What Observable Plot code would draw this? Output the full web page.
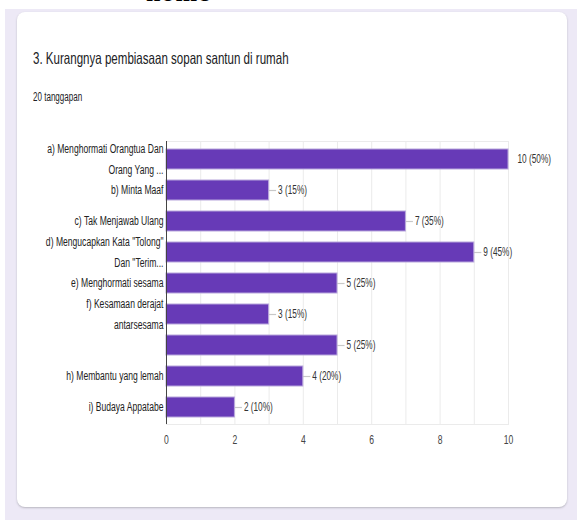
<!DOCTYPE html>
<html>
<head>
<meta charset="utf-8">
<script src="https://cdn.jsdelivr.net/npm/d3@7"></script>
<script src="https://cdn.jsdelivr.net/npm/@observablehq/plot@0.6"></script>
<style>
  html, body { margin: 0; padding: 0; }
  body { width: 577px; height: 520px; background: #ffffff; position: relative; overflow: hidden;
         font-family: "Liberation Sans", Arial, sans-serif; }
  #frag { position: absolute; left: 146px; top: -20px; font: bold 26px "Liberation Serif", serif; line-height: 1; color: #000; letter-spacing: 1px; }
  #bg { position: absolute; left: 5px; top: 9px; right: 0; bottom: 0; background: #ede9f6; }
  #card { position: absolute; left: 17px; top: 12px; width: 550px; height: 495px; background: #fff;
          border-radius: 8px; box-shadow: 0 1px 2px rgba(60,64,67,0.3); }
  .cond { position: absolute; white-space: nowrap; color: #202124; transform-origin: 0 0; }
  #title { left: 33px; top: 49px; font-size: 16.5px; transform: scaleX(0.70); }
  #sub { left: 33px; top: 90px; font-size: 12px; transform: scaleX(0.67); }
  #chart { position: absolute; left: 0; top: 128px; }
  #chart svg { background: transparent; overflow: visible; }
</style>
</head>
<body>
<div id="frag">home</div>
<div id="bg"></div>
<div id="card"></div>
<div id="title" class="cond">3. Kurangnya pembiasaan sopan santun di rumah</div>
<div id="sub" class="cond">20 tanggapan</div>
<div id="chart"></div>
<script>
const keys = ["a", "b", "c", "d", "e", "f", "g", "h", "i"];
const labels = [
  "a) Menghormati Orangtua Dan\nOrang Yang ...",
  "b) Minta Maaf",
  "c) Tak Menjawab Ulang",
  "d) Mengucapkan Kata \"Tolong\"\nDan \"Terim...",
  "e) Menghormati sesama",
  "f) Kesamaan derajat\nantarsesama",
  "",
  "h) Membantu yang lemah",
  "i) Budaya Appatabe"
];
const counts = [10, 3, 7, 9, 5, 3, 5, 4, 2];
const totalResponses = 20;
const xTicks = [0, 2, 4, 6, 8, 10];
const gridValues = [0, 1, 2, 3, 4, 5, 6, 7, 8, 9, 10];

const data = keys.map((k, i) => ({key: k, label: labels[i], value: counts[i]}));
const xMax = d3.max(xTicks);
const font = "'Liberation Sans', Arial, sans-serif";

const chart = Plot.plot({
  width: 577,
  height: 330,
  marginLeft: 166,
  marginRight: 69,
  marginTop: 13,
  marginBottom: 34,
  style: {fontFamily: font, fontSize: "12.5px", color: "#444", background: "transparent"},
  x: {domain: [0, xMax], ticks: xTicks, tickSize: 0, tickPadding: 11, label: null},
  y: {domain: keys, axis: null, paddingInner: 0.36, paddingOuter: 0.19},
  marks: [
    Plot.ruleX(gridValues, {stroke: "#ebebeb", strokeWidth: 1}),
    Plot.frame({stroke: "#ebebeb"}),
    Plot.ruleY(data.filter(d => d.value < xMax), {
      y: "key", x1: "value", x2: d => d.value + 0.22, stroke: "#c8c8c8", strokeWidth: 1.2
    }),
    Plot.barX(data, {x: "value", y: "key", fill: "#673ab7", stroke: "#b8a6dc", strokeWidth: 1}),
    Plot.ruleX([0], {stroke: "#444", strokeWidth: 1}),
    Plot.text(data, {
      x: "value", y: "key",
      text: d => `${d.value} (${Math.round(d.value / totalResponses * 100)}%)`,
      textAnchor: "start", dx: 9, dy: -1, fill: "#333", fontSize: 12.5
    }),
    Plot.text(data, {
      y: "key", frameAnchor: "left", text: "label", textAnchor: "end",
      dx: -3, dy: -3, lineHeight: 1.68, fill: "#222", fontSize: 12.5
    })
  ]
});
document.getElementById("chart").appendChild(chart);

// condense SVG text horizontally, like the narrow face of the reference
chart.querySelectorAll("text").forEach(t => {
  const parts = t.querySelectorAll("tspan");
  const nodes = parts.length ? Array.from(parts) : [t];
  const squeeze = /%/.test(t.textContent) ? 0.66 : 0.686;
  nodes.forEach(n => {
    const w = n.getComputedTextLength();
    if (w > 0) {
      n.setAttribute("textLength", (w * squeeze).toFixed(2));
      n.setAttribute("lengthAdjust", "spacingAndGlyphs");
    }
  });
});
</script>
</body>
</html>
